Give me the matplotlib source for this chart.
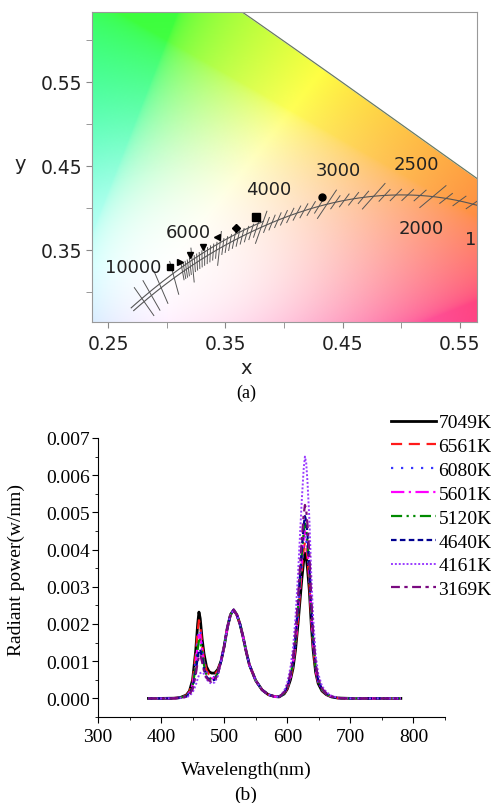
import numpy as np
import matplotlib
matplotlib.use("Agg")
import matplotlib.pyplot as plt

# ---------------- (a) chromaticity data ----------------
# spectral locus (CIE 1931), nm -> x, y
locus_nm = [540, 545, 550, 555, 560, 565, 570, 575, 580, 585, 590, 595]
locus_x = [0.2296, 0.2658, 0.3016, 0.3373, 0.3731, 0.4087, 0.4441, 0.4788, 0.5125, 0.5448, 0.5752, 0.6029]
locus_y = [0.7543, 0.7243, 0.6923, 0.6589, 0.6245, 0.5896, 0.5547, 0.5202, 0.4866, 0.4544, 0.4242, 0.3965]

# measured chromaticity points of the LED mixes
pt_x = [0.303, 0.3115, 0.320, 0.331, 0.343, 0.359, 0.3765, 0.432]
pt_y = [0.330, 0.3357, 0.344, 0.3536, 0.3655, 0.376, 0.389, 0.413]
pt_marker = ['s', '>', 'v', 'v', '<', 'D', 's', 'o']
pt_size = [4, 4, 4, 4, 4, 4, 6, 5]

# isotherm tick temperatures
cct_long = [2000, 2500, 3000, 4000, 5000, 6000, 7000, 8000, 9000, 10000]
cct_short = list(range(1700, 6600, 100))
cct_labels = ['10000', '6000', '4000', '3000', '2500', '2000', '1']
lab_x = [0.2714, 0.3184, 0.3868, 0.4466, 0.5124, 0.5167, 0.5545]
lab_y = [0.3298, 0.3714, 0.4226, 0.4452, 0.4524, 0.3762, 0.363]

# ---------------- (b) spectra ----------------
wl = [380, 400, 420, 430, 440, 445, 450, 455, 458, 460, 462, 465, 468, 472, 476, 480, 485, 490,
      495, 500, 505, 510, 515, 520, 525, 530, 535, 540, 550, 560, 570, 580, 587,
      595, 600, 605, 609, 613, 617, 620, 623, 626, 628, 630, 632, 635, 638, 641, 645, 649, 655, 662,
      670, 680, 700, 740, 780]

# values in 1e-4 W/nm
p7049 = [0, 0, 0.05, 0.2, 0.9, 2.0, 5.0, 13, 20, 23.2, 21.5, 16, 12, 8.5, 7.2, 6.8, 6.8, 7.8,
         10, 14, 19, 22.5, 23.8, 22.5, 20, 16.5, 12.5, 9, 4.8, 2.3, 1, 0.5, 0.4,
         1.2, 2.5, 5, 8, 13, 20, 26, 32, 37, 39, 38, 35, 29, 20, 13, 7, 4, 2, 1,
         0.4, 0.1, 0, 0, 0]
p6561 = [0, 0, 0.05, 0.2, 0.8, 1.8, 4.5, 12, 18, 21, 19.5, 14.5, 10.5, 7.5, 6.5, 6.2, 6.4, 7.5,
         10, 14, 19, 22.5, 23.8, 22.5, 20, 16.5, 12.5, 9, 4.8, 2.3, 1, 0.5, 0.4,
         1.3, 2.7, 5.4, 8.6, 14, 21.5, 28, 34.5, 40, 42, 41, 37.7, 31.2, 21.5, 14, 7.5, 4.3, 2.2, 1.1,
         0.4, 0.1, 0, 0, 0]
p6080 = [0, 0, 0.05, 0.2, 0.7, 1.6, 4.0, 10.5, 16, 18.5, 18.5, 14, 10, 7, 6, 5.6, 5.8, 7.2,
         10, 14, 19, 22.5, 23.8, 22.5, 20, 16.5, 12.5, 9, 4.8, 2.3, 1, 0.5, 0.4,
         1.3, 2.8, 5.6, 9, 14.7, 22.6, 29.3, 36.1, 41.7, 44, 42.9, 39.5, 32.7, 22.6, 14.7, 7.9, 4.5, 2.3, 1.1,
         0.5, 0.1, 0, 0, 0]
p5601 = [0, 0, 0.05, 0.2, 0.6, 1.5, 3.7, 9.5, 14.5, 17, 17, 13, 9.5, 6.6, 5.7, 5.3, 5.5, 7,
         10, 14, 19, 22.5, 23.8, 22.5, 20, 16.5, 12.5, 9, 4.8, 2.3, 1, 0.5, 0.4,
         1.4, 2.9, 5.8, 9.2, 15, 23.1, 30, 36.9, 42.7, 45, 43.8, 40.4, 33.5, 23.1, 15, 8.1, 4.6, 2.3, 1.2,
         0.5, 0.1, 0, 0, 0]
p5120 = [0, 0, 0.05, 0.2, 0.6, 1.4, 3.4, 8.7, 13.2, 15.5, 15.8, 12.3, 9, 6.3, 5.5, 5.1, 5.3, 6.9,
         10, 14, 19, 22.5, 23.8, 22.5, 20, 16.5, 12.5, 9, 4.8, 2.3, 1, 0.5, 0.4,
         1.4, 3, 6, 9.6, 15.7, 24.1, 31.3, 38.6, 44.6, 47, 45.8, 42.2, 34.9, 24.1, 15.7, 8.4, 4.8, 2.4, 1.2,
         0.5, 0.1, 0, 0, 0]
p4640 = [0, 0, 0.04, 0.15, 0.5, 1.2, 2.8, 7.2, 11, 12.8, 13.2, 10.8, 8, 5.8, 5.1, 4.8, 5, 6.6,
         10, 14, 19, 22.5, 23.8, 22.5, 20, 16.5, 12.5, 9, 4.8, 2.3, 1, 0.5, 0.4,
         1.5, 3.1, 6.3, 10, 16.3, 25.1, 32.7, 40.2, 46.5, 49, 47.7, 44, 36.4, 25.1, 16.3, 8.8, 5, 2.5, 1.3,
         0.5, 0.1, 0, 0, 0]
p4161 = [0, 0, 0.02, 0.1, 0.3, 0.7, 1.6, 3.6, 5.3, 6.2, 6.8, 7, 6.6, 5.2, 4.3, 4.0, 4.3, 6,
         10, 14, 19, 22.5, 23.8, 22.5, 20, 16.5, 12.5, 9, 4.8, 2.3, 1, 0.5, 0.4,
         2, 4.2, 8.3, 13.3, 21.7, 33.3, 43.3, 53.3, 61.7, 65, 63.3, 58.3, 48.3, 33.3, 21.7, 11.7, 6.7, 3.3, 1.7,
         0.7, 0.2, 0, 0, 0]
p3169 = [0, 0, 0.03, 0.15, 0.45, 1.1, 2.5, 6.5, 9.8, 11.3, 11.8, 9.8, 7.4, 5.5, 4.8, 4.5, 4.8, 6.5,
         10, 14, 19, 22.5, 23.8, 22.5, 20, 16.5, 12.5, 9, 4.8, 2.3, 1, 0.5, 0.4,
         1.6, 3.3, 6.7, 10.7, 17.3, 26.7, 34.7, 42.7, 49.3, 52, 50.7, 46.7, 38.7, 26.7, 17.3, 9.3, 5.3, 2.7, 1.3,
         0.5, 0.1, 0, 0, 0]

series = [p7049, p6561, p6080, p5601, p5120, p4640, p4161, p3169]
names = ['7049K', '6561K', '6080K', '5601K', '5120K', '4640K', '4161K', '3169K']
colors = ['black', '#ff1a1a', '#3838ff', '#ff00ff', '#008a00', '#000090', '#9a3cff', '#7a0a80']
styles = ['-', (0, (5, 3)), (0, (1, 3.5)), (0, (6, 2, 1, 2)), (0, (5, 2, 1, 2, 1, 2)),
          (0, (2.5, 1.5)), (0, (1, 1)), (0, (4, 2, 1.5, 2))]
widths = [2.0, 1.6, 1.6, 1.6, 1.6, 1.6, 1.4, 1.6]


def planck_xy(T):
    T = np.asarray(T, dtype=float)
    x = np.where(T <= 4000,
                 -0.2661239e9 / T**3 - 0.2343589e6 / T**2 + 0.8776956e3 / T + 0.179910,
                 -3.0258469e9 / T**3 + 2.1070379e6 / T**2 + 0.2226347e3 / T + 0.240390)
    y = np.where(T <= 2222, -1.1063814 * x**3 - 1.34811020 * x**2 + 2.18555832 * x - 0.20219683,
                 np.where(T <= 4000, -0.9549476 * x**3 - 1.37418593 * x**2 + 2.09137015 * x - 0.16748867,
                          3.0817580 * x**3 - 5.87338670 * x**2 + 3.75112997 * x - 0.37001483))
    return x, y


def daylight_xy(T):
    T = np.asarray(T, dtype=float)
    x = np.where(T <= 7000,
                 -4.6070e9 / T**3 + 2.9678e6 / T**2 + 0.09911e3 / T + 0.244063,
                 -2.0064e9 / T**3 + 1.9018e6 / T**2 + 0.24748e3 / T + 0.237040)
    y = -3.000 * x**2 + 2.870 * x - 0.275
    return x, y


fig = plt.figure(figsize=(4.91, 8.04), dpi=100)

# ---------------- (a) ----------------
xlo, xhi, ylo, yhi = 0.2363, 0.5645, 0.264, 0.633
ax = fig.add_axes([92/491, 1-323/804, 385/491, 310/804])

gx = np.linspace(xlo, xhi, 300)
gy = np.linspace(ylo, yhi, 300)
GX, GY = np.meshgrid(gx, gy)
XYZ = np.stack([GX / GY, np.ones_like(GX), (1 - GX - GY) / GY])
M = np.array([[3.2406, -1.5372, -0.4986], [-0.9689, 1.8758, 0.0415], [0.0557, -0.2040, 1.0570]])
rgb = np.einsum('ij,jkl->kli', M, XYZ)
rgb = np.clip(rgb, 0, None)
rgb[..., 0] *= 1.2
rgb = rgb / rgb.max(axis=2, keepdims=True)
rgb = np.where(rgb <= 0.0031308, 12.92 * rgb, 1.055 * rgb ** (1/2.4) - 0.055)
rgb = 0.22 + 0.78 * rgb
# pale toward the white point
d = np.hypot(GX - 0.3127, GY - 0.329)
w = (0.85 * np.exp(-(d / 0.16) ** 2))[..., None]
rgb = w + (1 - w) * rgb
ax.imshow(np.clip(rgb, 0, 1), extent=[xlo, xhi, ylo, yhi], origin='lower', aspect='auto',
          interpolation='bilinear', zorder=0)

# white outside the spectral locus
poly_x = locus_x + [0.8, 0.2]
poly_y = locus_y + [0.9, 0.9]
ax.fill(poly_x, poly_y, color='white', zorder=1)
ax.plot(locus_x, locus_y, color='#6a7a62', lw=0.9, zorder=2)

# planckian + daylight locus
Tp = np.linspace(1667, 12000, 400)
px_, py_ = planck_xy(Tp)
ax.plot(px_, py_, color='#555555', lw=0.8, zorder=3)
Td = np.linspace(4000, 12000, 200)
dx_, dy_ = daylight_xy(Td)
ax.plot(dx_, dy_, color='#555555', lw=0.8, zorder=3)

# isotherm ticks pointing toward the McCamy epicentre
sx, sy = 1170.0, 840.0
for T, half in [(t, 8.0) for t in cct_short if t not in cct_long] + [(t, 17.0) for t in cct_long]:
    x0, y0 = planck_xy(T)
    vx, vy = (0.3320 - x0) * sx, (0.1858 - y0) * sy
    n = np.hypot(vx, vy)
    vx, vy = vx / n * half / sx, vy / n * half / sy
    ax.plot([x0 - vx, x0 + vx], [y0 - vy, y0 + vy], color='#555555', lw=0.7, zorder=3)

for xx, yy, m, s in zip(pt_x, pt_y, pt_marker, pt_size):
    ax.plot(xx, yy, marker=m, color='black', ms=s, ls='none', zorder=5)

for t, xx, yy in zip(cct_labels, lab_x, lab_y):
    ha = 'left' if t == '1' else 'center'
    ax.text(xx, yy, t, fontsize=13, color='#222222', ha=ha, va='center', zorder=6)

ax.set_xlim(xlo, xhi)
ax.set_ylim(ylo, yhi)
ax.set_xticks([0.25, 0.35, 0.45, 0.55])
ax.set_xticks([0.30, 0.40, 0.50], minor=True)
ax.set_yticks([0.35, 0.45, 0.55])
ax.set_yticks([0.30, 0.40, 0.50, 0.60], minor=True)
ax.set_xticklabels(['0.25', '0.35', '0.45', '0.55'])
ax.set_yticklabels(['0.35', '0.45', '0.55'])
ax.tick_params(which='both', direction='out', colors='#888888', labelcolor='#222222', labelsize=13.5)
ax.tick_params(axis='x', pad=5)
ax.tick_params(axis='y', pad=3)
ax.tick_params(which='major', length=4)
ax.tick_params(which='minor', length=4)
for sp in ax.spines.values():
    sp.set_color('#999999')
fig.text(246/491, 1-369/804, 'x', fontsize=14, ha='center', va='center', color='#222222')
fig.text(20/491, 1-165/804, 'y', fontsize=14, ha='center', va='center', color='#222222')
fig.text(246/491, 1-393/804, '(a)', fontsize=13, ha='center', va='center', family='Liberation Serif')

# ---------------- (b) ----------------
serif = 'Liberation Serif'
bx = fig.add_axes([98/491, 1-718/804, 347/491, 279/804])
handles = []
for vals, nm, c, ls, lw in zip(series, names, colors, styles, widths):
    ln, = bx.plot(wl, np.array(vals) * 1e-4, color=c, ls=ls, lw=lw, label=nm)
    handles.append(ln)
bx.set_xlim(300, 850)
bx.set_ylim(-0.0005, 0.007)
bx.set_xticks([300, 400, 500, 600, 700, 800])
bx.set_xticks([350, 450, 550, 650, 750, 850], minor=True)
bx.set_yticks([0, 0.001, 0.002, 0.003, 0.004, 0.005, 0.006, 0.007])
bx.set_yticks(np.arange(-0.0005, 0.0071, 0.001), minor=True)
bx.set_yticklabels(['0.000', '0.001', '0.002', '0.003', '0.004', '0.005', '0.006', '0.007'])
bx.spines['top'].set_visible(False)
bx.spines['right'].set_visible(False)
bx.tick_params(which='both', direction='out', labelsize=14)
bx.tick_params(axis='x', pad=4)
bx.tick_params(axis='y', pad=2)
bx.tick_params(which='major', length=4)
bx.tick_params(which='minor', length=2.5)
for lab in bx.get_xticklabels() + bx.get_yticklabels():
    lab.set_family(serif)
fig.text(246/491, 1-770/804, 'Wavelength(nm)', fontsize=14, ha='center', va='center', family=serif)
fig.text(16/491, 1-570/804, 'Radiant power(w/nm)', fontsize=14, ha='center', va='center',
         rotation=90, family=serif)
fig.text(246/491, 1-795/804, '(b)', fontsize=14, ha='center', va='center', family=serif)

fig.legend(handles=handles, loc='upper left', bbox_to_anchor=(383/491, 1-407/804), frameon=False,
           prop={'family': serif, 'size': 14}, handlelength=2.3, handletextpad=0.15,
           labelspacing=0.32, borderaxespad=0)

fig.savefig('out.png', dpi=100)
